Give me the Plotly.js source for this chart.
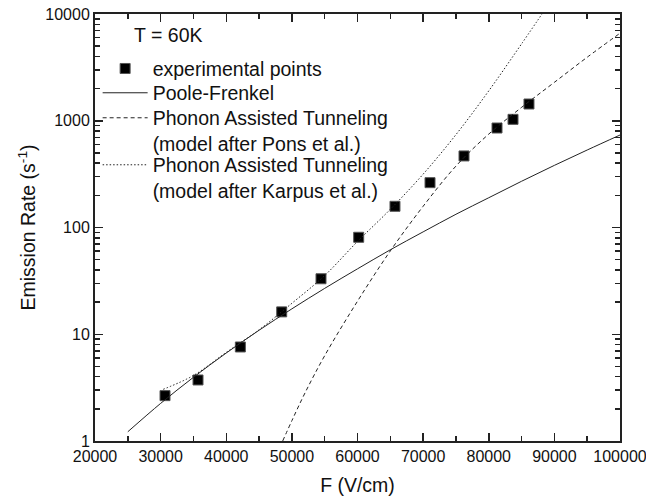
<!DOCTYPE html>
<html>
<head>
<meta charset="utf-8">
<script src="https://cdn.plot.ly/plotly-3.0.1.min.js"></script>
<style>
  html, body { margin: 0; padding: 0; background: #fff; }
  #chart { width: 646px; height: 500px; }
</style>
</head>
<body>
<div id="chart"></div>
<script>
// Experimental points
const expF    = [30670, 35700, 42150, 48450, 54440, 60180, 65710, 71050, 76230, 81260, 83700, 86130];
const expRate = [2.66, 3.73, 7.6, 16.2, 33.1, 81, 158, 263, 468, 855, 1031, 1435];

// Poole-Frenkel curve
const pfF    = [25000, 30000, 35000, 40000, 45000, 50000, 55000, 60000, 65000, 70000, 75000, 80000, 85000, 90000, 95000, 100000];
const pfRate = [1.22, 2.25, 3.95, 6.67, 10.9, 17.3, 26.9, 41.0, 61.8, 91, 133, 190, 271, 382, 532, 735];

// Phonon Assisted Tunneling (Pons et al.)
const ponsF    = [48600, 50000, 52000, 55000, 60000, 65000, 70000, 75000, 80000, 85000, 90000, 95000, 100000];
const ponsRate = [1.0, 1.55, 2.82, 6.3, 20.4, 60.3, 158, 376, 750, 1334, 2291, 3936, 6607];

// Phonon Assisted Tunneling (Karpus et al.)
const karF    = [30400, 35000, 40000, 45000, 50000, 55000, 60000, 65000, 70000, 75000, 80000, 85000, 90000];
const karRate = [3.05, 4.11, 6.76, 11.0, 19.5, 35.5, 74, 148, 316, 741, 1905, 5250, 14800];

const xTickVals = [20000, 30000, 40000, 50000, 60000, 70000, 80000, 90000, 100000];
const xTickText = ['20000', '30000', '40000', '50000', '60000', '70000', '80000', '90000', '100000'];
const yTickVals = [1, 10, 100, 1000, 10000];
const yTickText = ['1', '10', '100', '1000', '10000'];

const FONT = 'Liberation Sans, Arial, sans-serif';
const INK = '#111';
const AX = '#222';

const traces = [
  {
    x: expF, y: expRate, type: 'scatter', mode: 'markers',
    name: 'experimental points', legend: 'legend',
    marker: { symbol: 'square', size: 10, color: '#000', line: { color: '#555', width: 1 } }
  },
  {
    x: pfF, y: pfRate, type: 'scatter', mode: 'lines',
    name: 'Poole-Frenkel', legend: 'legend2',
    line: { color: '#222', width: 1, shape: 'spline' }
  },
  {
    x: ponsF, y: ponsRate, type: 'scatter', mode: 'lines',
    name: 'Phonon Assisted Tunneling<br>(model after Pons et al.)', legend: 'legend3',
    line: { color: '#222', width: 1, dash: '4px,3px', shape: 'spline' }
  },
  {
    x: karF, y: karRate, type: 'scatter', mode: 'lines',
    name: 'Phonon Assisted Tunneling<br>(model after Karpus et al.)', legend: 'legend4',
    line: { color: '#222', width: 1, dash: '1.5px,2px', shape: 'spline' }
  },
  {
    x: [], y: [], type: 'scatter', mode: 'lines', xaxis: 'x2', yaxis: 'y2',
    showlegend: false, hoverinfo: 'skip'
  }
];

function legendAt(firstLineCenterPx) {
  const top = firstLineCenterPx - 18.4;
  return {
    x: 0.005, y: 1 - (top - 14) / 427, xanchor: 'left', yanchor: 'top',
    bgcolor: 'rgba(0,0,0,0)', borderwidth: 0,
    font: { family: FONT, size: 19.5, color: INK },
    itemwidth: 45, valign: 'top', tracegroupgap: 0
  };
}

const minorX = { dtick: 5000, tick0: 0, ticks: 'inside', ticklen: 5, tickwidth: 1.5, tickcolor: AX, showgrid: false };
const minorY = { dtick: 'D1', ticks: 'inside', ticklen: 5, tickwidth: 1.5, tickcolor: AX, showgrid: false };

const layout = {
  width: 646, height: 500,
  margin: { l: 95, r: 26, t: 14, b: 59, pad: 0 },
  paper_bgcolor: '#fff', plot_bgcolor: '#fff',
  font: { family: FONT, color: INK, size: 16 },
  showlegend: true,
  legend: legendAt(67.7),
  legend2: legendAt(92),
  legend3: legendAt(117),
  legend4: legendAt(164),
  xaxis: {
    type: 'linear', range: [20000, 100000],
    tickmode: 'array', tickvals: xTickVals, ticktext: xTickText,
    ticks: 'inside', ticklen: 8, tickwidth: 1.5, tickcolor: AX,
    minor: minorX,
    showline: true, linecolor: AX, linewidth: 2, mirror: false,
    showgrid: false, zeroline: false, ticklabeloverflow: 'allow',
    tickfont: { family: FONT, size: 16, color: INK },
    title: { text: 'F (V/cm)', font: { family: FONT, size: 19.5, color: INK }, standoff: 14 },
    automargin: false
  },
  yaxis: {
    type: 'log', range: [0, 4],
    tickmode: 'array', tickvals: yTickVals, ticktext: yTickText,
    ticks: 'inside', ticklen: 8, tickwidth: 1.5, tickcolor: AX,
    minor: minorY,
    showline: true, linecolor: AX, linewidth: 2, mirror: false,
    showgrid: false, zeroline: false, ticklabeloverflow: 'allow',
    tickfont: { family: FONT, size: 16, color: INK },
    title: { text: 'Emission Rate (s<sup>-1</sup>)', font: { family: FONT, size: 19.5, color: INK }, standoff: 4 },
    automargin: false
  },
  xaxis2: {
    type: 'linear', range: [20000, 100000], overlaying: 'x', side: 'top', anchor: 'y2',
    tickmode: 'array', tickvals: xTickVals, showticklabels: false,
    ticks: 'inside', ticklen: 8, tickwidth: 1.5, tickcolor: AX,
    minor: minorX,
    showline: true, linecolor: AX, linewidth: 2,
    showgrid: false, zeroline: false, automargin: false
  },
  yaxis2: {
    type: 'log', range: [0, 4], overlaying: 'y', side: 'right', anchor: 'x2',
    tickmode: 'array', tickvals: yTickVals, showticklabels: false,
    ticks: 'inside', ticklen: 8, tickwidth: 1.5, tickcolor: AX,
    minor: minorY,
    showline: true, linecolor: AX, linewidth: 2,
    showgrid: false, zeroline: false, automargin: false
  },
  annotations: [
    {
      text: 'T = 60K', xref: 'paper', yref: 'paper',
      x: (132 - 95) / 525, y: 1 - (35 - 14) / 427,
      xanchor: 'left', yanchor: 'middle', showarrow: false,
      font: { family: FONT, size: 19.5, color: INK }
    }
  ]
};

Plotly.newPlot('chart', traces, layout, { displayModeBar: false, staticPlot: true });
</script>
</body>
</html>
